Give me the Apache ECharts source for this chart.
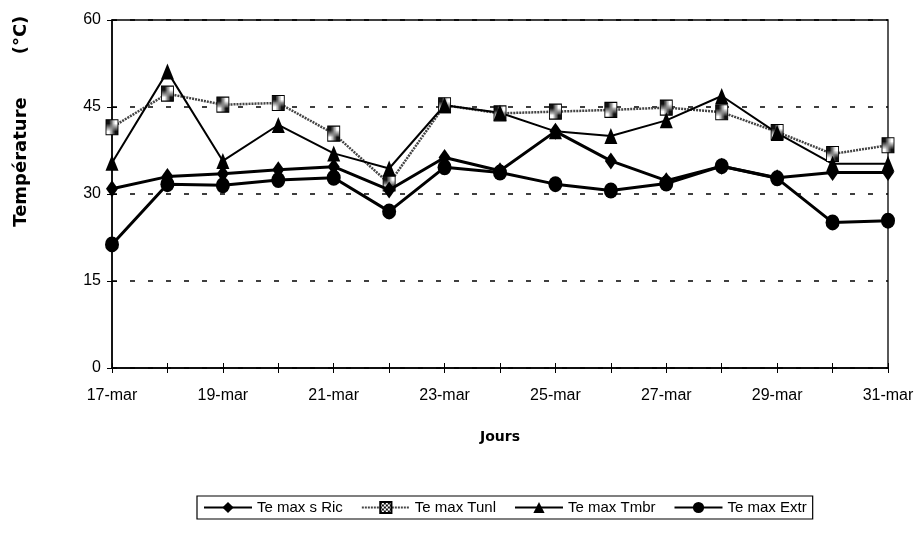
<!DOCTYPE html>
<html>
<head>
<meta charset="utf-8">
<script src="https://cdn.jsdelivr.net/npm/echarts@6/dist/echarts.min.js"></script>
<style>
  html, body { margin: 0; padding: 0; background: #fff; }
  #chart { width: 920px; height: 541px; }
</style>
</head>
<body>
<div id="chart"></div>
<script>
// Daily maximum temperatures, 17 to 31 March
const days = ['17-mar','18-mar','19-mar','20-mar','21-mar','22-mar','23-mar','24-mar',
              '25-mar','26-mar','27-mar','28-mar','29-mar','30-mar','31-mar'];
const ricValues  = [30.9, 33.0, 33.5, 34.2, 34.7, 30.7, 36.3, 34.0, 40.8, 35.7, 32.3, 34.8, 32.8, 33.7, 33.7];
const tunlValues = [41.5, 47.3, 45.4, 45.7, 40.4, 31.8, 45.3, 43.9, 44.2, 44.5, 44.9, 44.1, 40.7, 36.9, 38.4];
const tmbrValues = [35.4, 51.1, 35.7, 41.9, 37.0, 34.4, 45.3, 44.0, 40.8, 40.0, 42.7, 46.9, 40.5, 35.2, 35.2];
const extrValues = [21.3, 31.7, 31.5, 32.4, 32.8, 27.0, 34.6, 33.7, 31.7, 30.6, 31.8, 34.8, 32.7, 25.1, 25.4];
const yTicks = [0, 15, 30, 45, 60];

const labelFont = '"Liberation Sans", Arial, sans-serif';
const titleFont = '"DejaVu Sans", Verdana, sans-serif';

// checkered fill for the "Tunl" markers
function checker() {
  const c = document.createElement('canvas');
  c.width = 4; c.height = 4;
  const g = c.getContext('2d');
  g.fillStyle = '#fff'; g.fillRect(0, 0, 4, 4);
  g.fillStyle = '#111';
  g.fillRect(0, 0, 2, 2); g.fillRect(2, 2, 2, 2);
  return c;
}
const checkerFill = { image: checker(), repeat: 'repeat' };

const chart = echarts.init(document.getElementById('chart'), null, { renderer: 'canvas' });

chart.setOption({
  animation: false,
  backgroundColor: '#fff',
  grid: { left: 112, top: 20, width: 776, height: 348,
          show: true, borderColor: '#000', borderWidth: 1.3 },
  graphic: [{
    type: 'text', x: 21, y: 162, rotation: Math.PI / 2,
    style: { text: 'Température', fill: '#000', font: 'bold 18px ' + titleFont,
             align: 'center', verticalAlign: 'middle' }
  }, {
    type: 'text', x: 21, y: 35, rotation: Math.PI / 2,
    style: { text: '(°C)', fill: '#000', font: 'bold 18px ' + titleFont,
             align: 'center', verticalAlign: 'middle' }
  }],
  xAxis: [{
    type: 'category', data: days, boundaryGap: false,
    axisLine: { lineStyle: { color: '#000', width: 1.5 } },
    axisTick: { show: true, interval: 0, length: 5, lineStyle: { color: '#000' } },
    axisLabel: { interval: 1, color: '#000', fontFamily: labelFont, fontSize: 16, margin: 20 },
    splitLine: { show: false },
    name: 'Jours', nameLocation: 'middle', nameGap: 62,
    nameTextStyle: { color: '#000', fontFamily: titleFont, fontWeight: 'bold', fontSize: 14 }
  }, {
    type: 'category', data: days, boundaryGap: false, position: 'bottom',
    axisLine: { show: false },
    axisTick: { show: true, inside: true, interval: 0, length: 5, lineStyle: { color: '#000' } },
    axisLabel: { show: false }, splitLine: { show: false }
  }],
  yAxis: [{
    type: 'value', min: 0, max: 60, interval: 15,
    axisLine: { show: true, lineStyle: { color: '#000', width: 1.5 } },
    axisTick: { show: true, length: 5, lineStyle: { color: '#000' } },
    axisLabel: { color: '#000', fontFamily: labelFont, fontSize: 16, margin: 11,
                 formatter: v => yTicks.includes(v) ? String(v) : '' },
    splitLine: { show: true, lineStyle: { color: '#000', type: [5, 13], width: 1.5 } }
  }, {
    type: 'value', min: 0, max: 60, interval: 15, position: 'left',
    axisLine: { show: false },
    axisTick: { show: true, inside: true, length: 5, lineStyle: { color: '#000' } },
    axisLabel: { show: false }, splitLine: { show: false }
  }],
  legend: {
    left: 197, top: 496, width: 640,
    itemGap: 18, itemWidth: 48, itemHeight: 14,
    padding: [4, 6, 4, 6],
    borderColor: '#000', borderWidth: 1.2,
    textStyle: { color: '#000', fontFamily: labelFont, fontSize: 15 },
    data: ['Te max s Ric', 'Te max Tunl', 'Te max Tmbr', 'Te max Extr']
  },
  series: [{
    name: 'Te max s Ric', type: 'line', data: ricValues,
    symbol: 'diamond', symbolSize: [12, 17],
    lineStyle: { color: '#000', width: 3 },
    itemStyle: { color: '#000' }, z: 3
  }, {
    name: 'Te max Tunl', type: 'line', data: tunlValues,
    symbol: 'rect', symbolSize: [12, 15],
    lineStyle: { color: '#444', width: 2.5, type: [2, 1] },
    itemStyle: { color: checkerFill, borderColor: '#000', borderWidth: 1 }, z: 2
  }, {
    name: 'Te max Tmbr', type: 'line', data: tmbrValues,
    symbol: 'triangle', symbolSize: [13, 16],
    lineStyle: { color: '#000', width: 2 },
    itemStyle: { color: '#000' }, z: 2
  }, {
    name: 'Te max Extr', type: 'line', data: extrValues,
    symbol: 'circle', symbolSize: [14, 16],
    lineStyle: { color: '#000', width: 3 },
    itemStyle: { color: '#000' }, z: 4
  }]
});
</script>
</body>
</html>
